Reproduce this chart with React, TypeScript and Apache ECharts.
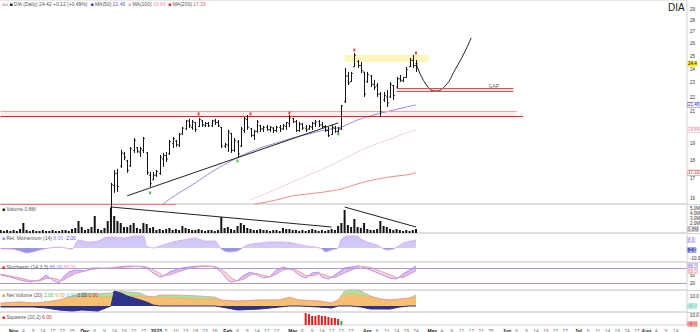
import { useEffect, useRef } from "react";
import * as echarts from "echarts";

const FONT = "'Liberation Sans', Arial, sans-serif";
const NUM_DAYS = 212;
const START_DATE = [2022, 9, 26];
const MONTH_NAMES = ["Jan", "Feb", "Mar", "Apr", "May", "Jun", "Jul", "Aug", "Sep", "Oct", "Nov", "Dec"];

const BAR_START = 34;
const OPEN = [15.55,16.65,17.3,17.7,18.4,18.0,17.7,18.6,18.75,18.5,18.6,18.45,17.2,16.95,17.2,17.3,18.1,18.3,18.4,19.0,19.15,18.9,19.6,19.9,20.4,20.0,20.3,20.05,20.4,20.1,20.25,20.1,20.4,20.3,20.0,18.85,18.9,19.6,18.6,19.1,18.85,19.8,20.5,19.9,19.5,19.75,20.1,19.9,20.0,19.85,19.95,19.8,20.0,19.9,20.05,20.25,20.55,20.35,19.8,20.2,19.95,19.9,20.0,20.25,20.35,20.15,20.05,19.8,19.55,19.95,19.75,19.9,21.7,23.5,23.1,24.2,24.6,24.3,23.8,23.1,23.5,22.9,22.8,22.2,21.8,22.0,22.0,22.8,22.7,23.3,23.15,23.4,24.2,24.7,24.3];
const HIGH = [16.79,17.49,17.55,18.63,18.51,18.05,18.8,19.34,18.8,18.8,19.4,18.51,17.38,17.38,17.49,18.34,18.45,18.51,19.22,19.4,19.22,19.65,20.02,20.47,20.53,20.47,20.34,20.6,20.47,20.34,20.34,20.47,20.53,20.47,20.02,19.04,19.84,19.65,19.34,19.22,20.02,20.66,20.79,19.96,19.84,20.47,20.15,20.09,20.15,20.09,20.02,20.09,20.15,20.21,20.34,20.79,20.6,20.47,20.34,20.28,20.15,20.15,20.34,20.47,20.47,20.34,20.15,20.02,20.15,20.09,20.02,21.46,24.11,23.81,23.81,25.27,24.72,24.57,23.81,23.81,23.58,23.22,23.0,22.35,22.35,22.5,23.07,22.85,23.44,23.58,23.44,24.18,24.88,25.11,24.72];
const LOW = [15.4,16.27,16.32,17.6,18.05,17.33,17.66,18.45,18.45,18.22,18.45,17.22,16.58,16.95,17.11,17.22,17.66,17.93,18.34,18.74,18.8,18.8,19.53,19.84,19.96,19.84,19.71,20.02,20.02,20.02,20.02,20.02,20.15,20.02,18.74,18.74,18.51,18.45,18.51,18.22,18.8,19.65,19.84,19.4,19.22,19.65,19.71,19.71,19.78,19.71,19.65,19.71,19.71,19.84,19.84,20.02,20.28,19.71,19.71,19.84,19.71,19.84,19.84,20.02,20.02,19.96,19.71,19.4,19.53,19.65,19.65,19.84,21.59,22.85,23.07,24.18,24.11,23.73,22.01,23.0,22.71,22.5,22.01,20.66,21.66,21.32,21.94,21.8,22.64,23.07,23.07,23.36,24.18,24.11,23.81];
const CLOSE = [16.7,17.3,16.6,18.45,18.2,17.45,18.7,19.2,18.55,18.7,19.3,17.35,16.75,17.2,17.4,18.2,18.3,18.1,19.1,19.3,18.95,19.55,19.95,20.4,20.1,20.35,19.85,20.5,20.15,20.25,20.1,20.4,20.3,20.1,18.85,18.95,19.7,18.6,19.2,18.4,19.9,20.55,20.0,19.5,19.75,20.35,19.9,20.0,19.85,20.0,19.8,20.0,19.9,20.1,20.3,20.6,20.35,19.8,20.2,19.95,19.85,20.05,20.25,20.35,20.15,20.05,19.8,19.5,20.0,19.75,19.9,21.4,23.5,23.0,23.7,25.1,24.3,23.9,22.2,23.6,22.9,22.7,22.2,21.0,22.1,21.6,22.9,22.1,23.3,23.2,23.4,24.0,24.7,24.3,24.42];

const MA50_IDX = [50,55,60,65,70,74,80,85,90,95,100,105,110,115,120,125,128];
const MA50_VAL = [15.72,16.27,16.79,17.38,17.88,18.28,18.74,19.04,19.34,19.59,19.84,20.02,20.47,20.79,21.06,21.32,21.46];
const MA100_IDX = [77,80,85,90,95,100,105,110,115,120,125,128];
const MA100_VAL = [15.91,16.12,16.47,16.84,17.22,17.6,18.05,18.51,18.92,19.28,19.65,19.84];
const MA200_IDX = [78,85,90,95,100,105,110,115,120,125,128];
const MA200_VAL = [15.69,15.91,16.12,16.22,16.32,16.47,16.74,16.95,17.11,17.22,17.33];

const TREND_IDX = [39, 104];
const TREND_VAL = [16.12, 20.28];
const CURVE_IDX = [128,131,134,137,140,143,145];
const CURVE_VAL = [24.49,22.92,22.42,22.78,23.96,25.35,26.51];
const ZONE_YELLOW = { from: 106, to: 132, top: 25.11, bottom: 24.57 };
const ZONE_RESIST = { from: 0, to: 159, toLow: 161, top: 21.06, bottom: 20.73 };
const ZONE_GAP = { from: 122, to: 158, top: 22.6, bottom: 22.42, labelAt: 152, labelVal: 22.8 };
const FLOOR_LINE = { from: 0, to: 54, value: 15.72 };
const HIGH_MARK_IDX = [61,77,89,109,128];
const HIGH_MARK_VAL = [20.86,20.86,20.92,25.51,25.27];
const LOW_MARK_IDX = [46,73,104];
const LOW_MARK_VAL = [16.27,17.99,19.59];
const PRICE_TICKS = [16,17,18,19,21,22,23,24,25,26,27,28,29];
const PRICE_MIN = 15.71;
const PRICE_MAX = 29.86;

const VOLUME = [0.6,0.4,0.6,0.4,0.6,0.4,0.8,2.0,0.6,0.4,0.6,0.4,0.4,0.6,0.4,0.4,0.6,0.4,0.4,0.6,0.6,0.4,0.8,1.0,2.4,1.2,0.6,0.8,1.2,3.4,0.8,0.6,1.0,2.4,5.0,3.4,2.4,2.0,1.2,1.2,1.6,2.0,1.0,0.8,2.0,1.8,1.0,1.2,0.6,0.8,0.6,0.8,1.0,0.6,0.8,0.6,1.4,1.0,0.8,0.6,0.6,0.8,0.6,0.4,0.6,0.6,0.4,0.6,3.2,1.0,1.2,0.8,0.6,1.4,2.0,1.6,1.0,0.8,0.6,0.6,0.8,0.6,0.6,0.4,0.6,0.6,0.4,1.0,0.8,0.8,0.6,0.6,0.4,0.6,0.4,0.6,0.8,0.6,0.4,0.6,0.4,0.6,0.8,0.6,1.4,2.0,4.6,1.6,1.2,2.8,1.2,1.0,2.0,0.8,0.6,0.6,0.8,2.4,1.4,1.2,0.8,0.6,0.8,0.6,0.4,0.6,0.4,0.6,0.8];
const VOL_TREND1_IDX = [34, 102];
const VOL_TREND1_VAL = [5.2, 1.2];
const VOL_TREND2_IDX = [106, 128];
const VOL_TREND2_VAL = [5.2, 1.2];

const P2_MIN = -14;
const P2_MAX = 15;
const P2_IDX = [0,3,6,8,10,12,15,18,20,22,24,27,30,33,35,38,41,44,45,47,50,53,56,60,63,66,68,70,73,76,80,83,87,90,94,97,99,100,102,104,105,107,110,111,113,116,119,121,123,125,128];
const P2_VAL = [-1,-1,-3,-5,-4,-2,0,1,0,-1,8,6,7,11,11,10,12,12,2,0,3,6,8,10,7,7,-1,-4,-3,3,5,6,6,5,2,1,-1,-4,-2,0,9,12,12,9,6,3,-2,-1,3,6,8];

const ST_IDX = [0,3,6,9,12,14,16,18,19,21,23,26,28,30,33,36,39,43,45,47,49,50,52,55,58,61,64,66,68,70,71,73,75,77,79,81,83,85,87,90,92,94,96,98,99,101,103,106,110,111,114,117,120,122,124,128];
const ST_K = [52,44,32,24,32,52,32,20,40,64,72,68,80,80,78,84,88,86,80,60,44,46,64,78,84,88,88,84,64,32,24,30,52,64,52,40,46,72,84,72,52,40,60,64,44,36,52,80,88,86,72,56,40,36,56,88];
const ST_D = [56,48,40,30,28,38,40,32,30,44,58,68,74,78,80,81,84,87,84,74,58,50,52,66,78,85,87,86,76,54,40,28,36,52,58,50,44,56,72,78,66,50,48,56,56,46,42,60,82,86,82,68,52,42,42,68];

const P4_IDX = [0,6,10,14,18,22,25,30,34,35,37,39,43,45,47,49,55,61,66,68,73,80,86,89,92,98,102,104,106,108,111,114,117,120,123,126,128];
const P4_ORANGE = [3,4,3,4,6,9,10,9,9,9,10,10,10,9,9,9,8,7,7,6,5,6,6,8,6,5,3,6,11,12,11,9,7,6,7,8,9];
const P4_GREEN = [0,0,0,0,0,1,3,3,4,5,5,4,3,1,0,2,3,3,2,0,0,0,0,1,0,0,0,0,4,5,4,1,0,0,0,0,2];
const P4_NAVY = [-1,-1,-1,-2,-4,-5,-4,-5,0,15,13,10,6,4,1,0,0,0,0,-1,-4,-3,-1,0,0,-1,-2,0,0,0,-1,-3,-3,-3,-1,0,0];

const SQ_RED_IDX = [94,95,96,97,98,99,100,101,102,103,104];
const SQ_RED_VAL = [12,11,9,9,10,9,9,8,7,7,6];
const SQ_GREEN_IDX = [105];
const SQ_GREEN_VAL = [4];

function buildDates() {
  const out: Date[] = [];
  const d = new Date(Date.UTC(START_DATE[0], START_DATE[1], START_DATE[2]));
  while (out.length < NUM_DAYS) {
    const wd = d.getUTCDay();
    if (wd !== 0 && wd !== 6) out.push(new Date(d.getTime()));
    d.setUTCDate(d.getUTCDate() + 1);
  }
  return out;
}
const DATES = buildDates();
const CATEGORIES = DATES.map((d) => d.toISOString().slice(0, 10));
function buildLabels() {
  const labels: string[] = [];
  const key = (d: Date) => d.getUTCFullYear() * 12 + d.getUTCMonth();
  const counts: Record<number, number> = {};
  DATES.forEach((d) => { counts[key(d)] = (counts[key(d)] || 0) + 1; });
  const firstKey = key(DATES[0]);
  let pos = 0;
  DATES.forEach((d, i) => {
    if (i > 0 && key(d) !== key(DATES[i - 1])) pos = 0;
    const k = key(d);
    let t = "";
    if (k !== firstKey) {
      if (pos === 0) t = "{m|" + (d.getUTCMonth() === 0 ? String(d.getUTCFullYear()) : MONTH_NAMES[d.getUTCMonth()]) + "}";
      else if (pos % 3 === 0 && pos <= counts[k] - 3) t = "{d|" + d.getUTCDate() + "}";
    }
    labels.push(t);
    pos++;
  });
  return labels;
}
const LABELS = buildLabels();

const ln = Math.log;
const pairs = (idx: number[], val: number[], f: (v: number) => number = (v) => v) => idx.map((x, j) => [x, f(val[j])]);

const PANES = [
  { top: 0, height: 204 },
  { top: 204, height: 29 },
  { top: 233, height: 29 },
  { top: 262, height: 28 },
  { top: 290, height: 22 },
  { top: 312, height: 13 },
];

function buildOption(withMarkers: boolean): any {
  const grid = PANES.map((p) => ({
    left: -1, right: 13, top: p.top, height: p.height, show: true,
    borderColor: "#d4d4d4", borderWidth: 1, backgroundColor: "transparent",
    containLabel: false, outerBoundsMode: "none",
  }));
  const xAxis = PANES.map((_, k) => ({
    type: "category", gridIndex: k, data: CATEGORIES, boundaryGap: true,
    axisLine: { show: false }, axisTick: { show: false }, splitLine: { show: false },
    axisLabel: k === 5 ? {
      show: true, fontSize: 5, color: "#777", margin: 3, fontFamily: FONT,
      interval: (i: number) => LABELS[i] !== "",
      formatter: (_v: string, i: number) => LABELS[i],
      rich: { m: { fontSize: 5, fontWeight: "bold", color: "#222", fontFamily: FONT }, d: { fontSize: 5, color: "#777", fontFamily: FONT } },
    } : { show: false },
  }));
  const axLabel = (values: number[], fmt: (v: number) => string) => ({
    show: true, fontSize: 4.5, color: "#333", margin: 3, fontFamily: FONT, customValues: values, formatter: fmt,
  });
  const yBase = { type: "value", position: "right", axisLine: { show: false }, axisTick: { show: false }, splitLine: { show: false } };
  const yAxis = [
    { ...yBase, gridIndex: 0, min: ln(PRICE_MIN), max: ln(PRICE_MAX), axisLabel: axLabel(PRICE_TICKS.map(ln), (v) => String(Math.round(Math.exp(v)))) },
    { ...yBase, gridIndex: 1, min: 0, max: 5.8, axisLabel: axLabel([2, 3, 4, 5], (v) => v.toFixed(1) + "M") },
    { ...yBase, gridIndex: 2, min: P2_MIN, max: P2_MAX, axisLabel: axLabel([-10], (v) => v.toFixed(1)) },
    { ...yBase, gridIndex: 3, min: -8, max: 104, axisLabel: axLabel([20, 50], (v) => String(v)) },
    { ...yBase, gridIndex: 4, min: -6, max: 16, axisLabel: axLabel([10], (v) => v.toFixed(1)) },
    { ...yBase, gridIndex: 5, min: 0, max: 13, axisLabel: axLabel([10], (v) => v.toFixed(1)) },
  ];

  const ohlc = OPEN.map((o, j) => [BAR_START + j, ln(o), ln(HIGH[j]), ln(LOW[j]), ln(CLOSE[j])]);
  const stochFill = ST_IDX.slice(0, -1).map((x, j) => [x, ST_K[j], ST_D[j], ST_IDX[j + 1], ST_K[j + 1], ST_D[j + 1]]);
  const line = { type: "line", symbol: "none", silent: true };
  const p2Top = PANES[2].top;
  const p2Bot = PANES[2].top + PANES[2].height;
  const zeroOff = P2_MAX / (P2_MAX - P2_MIN);
  const p2Gradient = new echarts.graphic.LinearGradient(0, p2Top, 0, p2Bot, [
    { offset: 0, color: "#c3b8f4" },
    { offset: zeroOff, color: "#cfc6f6" },
    { offset: zeroOff, color: "#8a8ce4" },
    { offset: 1, color: "#7a7cdc" },
  ], true);

  const trend: any = { ...line, id: "trend", xAxisIndex: 0, yAxisIndex: 0, data: pairs(TREND_IDX, TREND_VAL, ln), lineStyle: { color: "#222", width: 1 }, z: 4 };
  const stK: any = { ...line, id: "stK", xAxisIndex: 3, yAxisIndex: 3, data: pairs(ST_IDX, ST_K), lineStyle: { color: "#b98cf0", width: 1 }, z: 4 };
  if (withMarkers) {
    trend.markArea = {
      silent: true,
      data: [
        [{ coord: [ZONE_YELLOW.from, ln(ZONE_YELLOW.top)], itemStyle: { color: "#fdf7bd" } }, { coord: [ZONE_YELLOW.to, ln(ZONE_YELLOW.bottom)] }],
        [{ coord: [ZONE_RESIST.from, ln(ZONE_RESIST.top)], itemStyle: { color: "rgba(250,190,190,0.25)" } }, { coord: [ZONE_RESIST.to, ln(ZONE_RESIST.bottom)] }],
        [{ coord: [ZONE_GAP.from, ln(ZONE_GAP.top)], itemStyle: { color: "rgba(250,190,190,0.3)" } }, { coord: [ZONE_GAP.to, ln(ZONE_GAP.bottom)] }],
      ],
    };
    trend.markLine = {
      silent: true, symbol: ["none", "none"], label: { show: false },
      data: [
        [{ coord: [ZONE_RESIST.from, ln(ZONE_RESIST.top)], lineStyle: { color: "#f2a2a2", width: 1, type: "solid" } }, { coord: [ZONE_RESIST.to, ln(ZONE_RESIST.top)] }],
        [{ coord: [ZONE_RESIST.from, ln(ZONE_RESIST.bottom)], lineStyle: { color: "#e3252b", width: 1.2, type: "solid" } }, { coord: [ZONE_RESIST.toLow, ln(ZONE_RESIST.bottom)] }],
        [{ coord: [ZONE_GAP.from, ln(ZONE_GAP.top)], lineStyle: { color: "#ea4b4b", width: 1, type: "solid" } }, { coord: [ZONE_GAP.to, ln(ZONE_GAP.top)] }],
        [{ coord: [ZONE_GAP.from, ln(ZONE_GAP.bottom)], lineStyle: { color: "#ea4b4b", width: 1, type: "solid" } }, { coord: [ZONE_GAP.to, ln(ZONE_GAP.bottom)] }],
        [{ coord: [FLOOR_LINE.from, ln(FLOOR_LINE.value)], lineStyle: { color: "#f07a7a", width: 1, type: "solid" } }, { coord: [FLOOR_LINE.to, ln(FLOOR_LINE.value)] }],
      ],
    };
    stK.markLine = { silent: true, symbol: ["none", "none"], label: { show: false }, lineStyle: { color: "#a49ce6", width: 1, type: "solid" }, data: [{ yAxis: 80 }, { yAxis: 20 }] };
  }

  const series: any[] = [
    {
      id: "ohlc", type: "custom", xAxisIndex: 0, yAxisIndex: 0, z: 5,
      encode: { x: 0, y: [1, 2, 3, 4] }, data: ohlc,
      renderItem: (_p: any, api: any) => {
        const i = api.value(0);
        const o = api.coord([i, api.value(1)]);
        const h = api.coord([i, api.value(2)]);
        const l = api.coord([i, api.value(3)]);
        const c = api.coord([i, api.value(4)]);
        const x = Math.round(h[0]) + 0.5;
        const st = { stroke: "#151515", lineWidth: 1 };
        return {
          type: "group", children: [
            { type: "line", shape: { x1: x, y1: h[1], x2: x, y2: l[1] }, style: st },
            { type: "line", shape: { x1: x - 1.3, y1: o[1], x2: x, y2: o[1] }, style: st },
            { type: "line", shape: { x1: x, y1: c[1], x2: x + 1.3, y2: c[1] }, style: st },
          ],
        };
      },
    },
    { ...line, id: "ma200", xAxisIndex: 0, yAxisIndex: 0, smooth: 0.3, data: pairs(MA200_IDX, MA200_VAL, ln), lineStyle: { color: "#f08a8a", width: 1 }, z: 3 },
    { ...line, id: "ma100", xAxisIndex: 0, yAxisIndex: 0, smooth: 0.3, data: pairs(MA100_IDX, MA100_VAL, ln), lineStyle: { color: "#f1d2d2", width: 1 }, z: 3 },
    { ...line, id: "ma50", xAxisIndex: 0, yAxisIndex: 0, smooth: 0.3, data: pairs(MA50_IDX, MA50_VAL, ln), lineStyle: { color: "#8e8ee6", width: 1 }, z: 3 },
    trend,
    { ...line, id: "curve", xAxisIndex: 0, yAxisIndex: 0, smooth: 0.5, data: pairs(CURVE_IDX, CURVE_VAL, ln), lineStyle: { color: "#222", width: 1 }, z: 4 },
    { type: "scatter", id: "hiMark", xAxisIndex: 0, yAxisIndex: 0, symbol: "rect", symbolSize: [2, 3], data: pairs(HIGH_MARK_IDX, HIGH_MARK_VAL, ln), itemStyle: { color: "#e3201b" }, silent: true, z: 6 },
    { type: "scatter", id: "loMark", xAxisIndex: 0, yAxisIndex: 0, symbol: "rect", symbolSize: [2, 3], data: pairs(LOW_MARK_IDX, LOW_MARK_VAL, ln), itemStyle: { color: "#27b427" }, silent: true, z: 6 },
    {
      type: "scatter", id: "gapLabel", xAxisIndex: 0, yAxisIndex: 0, symbolSize: 1, silent: true,
      data: [[ZONE_GAP.labelAt, ln(ZONE_GAP.labelVal)]], itemStyle: { color: "rgba(0,0,0,0)" },
      label: { show: true, position: "inside", formatter: "GAP", fontSize: 5, color: "#333", fontFamily: FONT },
    },
    { type: "bar", id: "vol", xAxisIndex: 1, yAxisIndex: 1, barWidth: 2, data: VOLUME, itemStyle: { color: "#141414" }, silent: true },
    {
      ...line, id: "volT1", xAxisIndex: 1, yAxisIndex: 1, showSymbol: true, z: 4,
      data: [{ value: [VOL_TREND1_IDX[0], VOL_TREND1_VAL[0]], symbol: "none" }, { value: [VOL_TREND1_IDX[1], VOL_TREND1_VAL[1]], symbol: "circle", symbolSize: 3 }],
      lineStyle: { color: "#222", width: 1 }, itemStyle: { color: "#222" },
    },
    {
      ...line, id: "volT2", xAxisIndex: 1, yAxisIndex: 1, showSymbol: true, z: 4,
      data: [{ value: [VOL_TREND2_IDX[0], VOL_TREND2_VAL[0]], symbol: "none" }, { value: [VOL_TREND2_IDX[1], VOL_TREND2_VAL[1]], symbol: "circle", symbolSize: 3 }],
      lineStyle: { color: "#222", width: 1 }, itemStyle: { color: "#222" },
    },
    { ...line, id: "p2area", xAxisIndex: 2, yAxisIndex: 2, smooth: 0.3, data: pairs(P2_IDX, P2_VAL), lineStyle: { width: 0 }, areaStyle: { color: p2Gradient, opacity: 0.9 } },
    { ...line, id: "p2line", xAxisIndex: 2, yAxisIndex: 2, smooth: 0.3, data: pairs(P2_IDX, P2_VAL), lineStyle: { color: "#dcb3ee", width: 1 } },
    {
      id: "stFill", type: "custom", xAxisIndex: 3, yAxisIndex: 3, silent: true,
      encode: { x: [0, 3], y: [1, 2, 4, 5] }, data: stochFill,
      renderItem: (_p: any, api: any) => {
        const a = api.coord([api.value(0), api.value(1)]);
        const b = api.coord([api.value(3), api.value(4)]);
        const c = api.coord([api.value(3), api.value(5)]);
        const d = api.coord([api.value(0), api.value(2)]);
        const up = api.value(1) + api.value(4) >= api.value(2) + api.value(5);
        return { type: "polygon", shape: { points: [a, b, c, d] }, style: { fill: up ? "#d2b6f6" : "#f8d3dc", opacity: 0.9 } };
      },
    },
    stK,
    { ...line, id: "stD", xAxisIndex: 3, yAxisIndex: 3, data: pairs(ST_IDX, ST_D), lineStyle: { color: "#ef9aa8", width: 1 }, z: 4 },
    { ...line, id: "p4o", xAxisIndex: 4, yAxisIndex: 4, stack: "p4", data: pairs(P4_IDX, P4_ORANGE), lineStyle: { color: "#e9a65a", width: 0.6 }, areaStyle: { color: "#f8bf73", opacity: 1 } },
    { ...line, id: "p4g", xAxisIndex: 4, yAxisIndex: 4, stack: "p4", data: pairs(P4_IDX, P4_GREEN), lineStyle: { color: "#e79a9a", width: 0.8 }, areaStyle: { color: "#a7e6a0", opacity: 1 } },
    { ...line, id: "p4n", xAxisIndex: 4, yAxisIndex: 4, data: pairs(P4_IDX, P4_NAVY), lineStyle: { color: "#2c2f86", width: 1 }, areaStyle: { color: "#2f3289", opacity: 1 }, z: 4 },
    { type: "bar", id: "sqR", xAxisIndex: 5, yAxisIndex: 5, barWidth: 2, data: pairs(SQ_RED_IDX, SQ_RED_VAL), itemStyle: { color: "#e21d1d" }, silent: true },
    { type: "bar", id: "sqG", xAxisIndex: 5, yAxisIndex: 5, barWidth: 2, barGap: "-100%", data: pairs(SQ_GREEN_IDX, SQ_GREEN_VAL), itemStyle: { color: "#1fb83a" }, silent: true },
  ];
  return {
    animation: false,
    backgroundColor: "#ffffff",
    textStyle: { fontFamily: FONT },
    grid, xAxis, yAxis, series,
  };
}

function buildOverlay(chart: any) {
  const py = (axis: number, v: number) => chart.convertToPixel({ yAxisIndex: axis }, v) as number;
  const box = (id: string, y: number, text: string, fill: string, bg: string, border?: string) => ({
    id, type: "text", x: 687.5, y, z: 100, silent: true,
    style: { text, fontSize: 4.5, fontFamily: FONT, fill, backgroundColor: bg, verticalAlign: "middle", borderColor: border || bg, borderWidth: border ? 0.5 : 0, padding: [0, 0.5] },
  });
  const legend = (id: string, y: number, text: string) => ({
    id, type: "text", x: 2, y, z: 100, silent: true,
    style: {
      text, fontSize: 5, fontFamily: FONT, fill: "#555",
      rich: {
        k: { fill: "#111", fontSize: 5 }, pk: { fill: "#f2a7c9", fontSize: 5 }, gn: { fill: "#9fd8b0", fontSize: 5 },
        b: { fill: "#2d2dc8", fontSize: 5 }, bv: { fill: "#5555d8", fontSize: 5 },
        p: { fill: "#f3a6c6", fontSize: 5 }, pv: { fill: "#f08fb0", fontSize: 5 },
        r: { fill: "#e3201b", fontSize: 5 }, rv: { fill: "#f06060", fontSize: 5 },
        v: { fill: "#8f7fe8", fontSize: 5 }, bl: { fill: "#3a46d0", fontSize: 5 },
        g: { fill: "#40c040", fontSize: 5 }, o: { fill: "#e89a40", fontSize: 5 }, c: { fill: "#40c8d0", fontSize: 5 }, n: { fill: "#2c2f86", fontSize: 5 },
      },
    },
  });
  const seps = PANES.slice(1).map((p, k) => ({
    id: "sep" + k, type: "line", silent: true, z: 1,
    shape: { x1: 687, y1: p.top + 0.5, x2: 700, y2: p.top + 0.5 }, style: { stroke: "#d4d4d4", lineWidth: 1 },
  }));
  const last = (a: number[]) => a[a.length - 1];
  return {
    elements: [
      ...seps,
      { id: "dia", type: "text", x: 668, y: 2, silent: true, style: { text: "DIA", fontSize: 10, fontFamily: FONT, fill: "#222" } },
      legend("l0", 1, "{pk|■}{gn|■} {k|■} DIA (Daily) 24.42 +0.12 (+0.49%)  {b|■} MA(50) {bv|21.46}  {p|■} MA(100) {pv|19.84}  {r|■} MA(200) {rv|17.33}"),
      legend("l1", 206, "{k|■} Volume 0.8M"),
      legend("l2", 235, "{v|■} Rel. Momentum (14) {v|8.00} {bl|-2.00}"),
      legend("l3", 264, "{r|■} Stochastic (14,3,3) {v|88.00} {pv|68.00}"),
      legend("l4", 292, "{o|■} Net Volume (20) {g|2.00} {o|9.00} {c|0.00} {n|0.00} {r|0.00}"),
      legend("l5", 314, "{r|■} Squeeze (20,2) {r|6.00}"),
      box("bPrice", py(0, ln(last(CLOSE))), last(CLOSE).toFixed(1), "#111", "#ffe600"),
      box("bMa50", py(0, ln(last(MA50_VAL))), last(MA50_VAL).toFixed(2), "#3434c8", "#ffffff", "#6a6ad8"),
      box("bMa100", py(0, ln(last(MA100_VAL))), last(MA100_VAL).toFixed(2), "#e07c9c", "#ffffff", "#f0a8c0"),
      box("bMa200", py(0, ln(last(MA200_VAL))), last(MA200_VAL).toFixed(2), "#e02020", "#ffffff", "#f07070"),
      box("bVol", py(1, last(VOLUME)), last(VOLUME).toFixed(1) + "M", "#333", "#ffffff", "#999"),
      box("bP2a", py(2, last(P2_VAL)), last(P2_VAL).toFixed(1), "#6a5ad8", "#ffffff", "#a898ee"),
      box("bP2b", py(2, -2), "-2.0", "#ffffff", "#4a50d0"),
      box("bStK", py(3, last(ST_K)), last(ST_K).toFixed(1), "#7a5ad8", "#ffffff", "#a88ef0"),
      box("bStD", py(3, last(ST_D)), last(ST_D).toFixed(1), "#e07080", "#ffffff", "#f0a0b0"),
      box("bP4", py(4, 0), "0.00", "#ffffff", "#7fd6c6"),
      box("bP5", py(5, 1), "0.00", "#ffffff", "#e85050"),
    ],
  };
}

export default function App() {
  const ref = useRef<HTMLDivElement>(null);
  useEffect(() => {
    let chart: any = null;
    for (const withMarkers of [true, false]) {
      try {
        chart = echarts.init(ref.current as HTMLDivElement, null, { renderer: "svg" });
        chart.setOption(buildOption(withMarkers));
        chart.setOption({ graphic: buildOverlay(chart) });
        break;
      } catch (e) {
        if (chart) chart.dispose();
        chart = null;
      }
    }
    return () => { if (chart) chart.dispose(); };
  }, []);
  return <div ref={ref} style={{ position: "fixed", left: 0, top: 0, width: 700, height: 332, background: "#fff" }} />;
}
